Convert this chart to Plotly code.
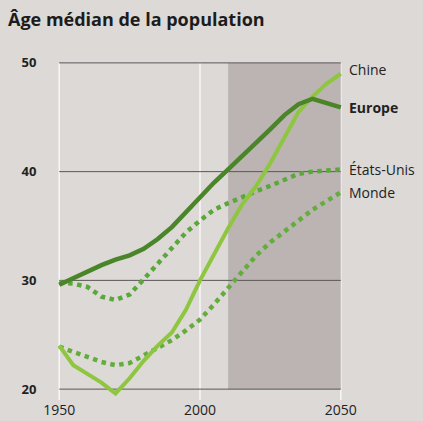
import plotly.graph_objects as go

years = [1950, 1955, 1960, 1965, 1970, 1975, 1980, 1985, 1990, 1995, 2000,
         2005, 2010, 2015, 2020, 2025, 2030, 2035, 2040, 2045, 2050]

chine = [24.0, 22.2, 21.4, 20.6, 19.6, 21.0, 22.6, 24.0, 25.2, 27.3, 30.0,
         32.4, 34.8, 37.0, 38.7, 40.8, 43.2, 45.5, 46.9, 48.1, 49.0]
europe = [29.6, 30.2, 30.9, 31.4, 31.9, 32.3, 32.9, 33.8, 34.9, 36.3, 37.7,
          39.0, 40.2, 41.4, 42.7, 43.9, 45.2, 46.2, 46.7, 46.3, 45.9]
etats_unis = [29.8, 29.7, 29.4, 28.5, 28.2, 28.7, 30.1, 31.5, 33.0, 34.4, 35.5,
              36.5, 37.1, 37.7, 38.2, 38.7, 39.3, 39.8, 40.0, 40.1, 40.2]
monde = [23.9, 23.4, 23.0, 22.5, 22.2, 22.4, 23.1, 23.8, 24.5, 25.4, 26.4,
         27.8, 29.3, 30.8, 32.3, 33.5, 34.5, 35.5, 36.5, 37.3, 38.1]

y_ticks = [20, 30, 40, 50]
x_ticks = [1950, 2000, 2050]
projection_start = 2010
title_text = "Âge médian de la population"

PAPER = "#dcd9d6"
SHADE = "#bbb4b3"
FONT = "Open Sans"

fig = go.Figure()

series = [
    ("Monde", monde, "#63ad3c", "dot", 4.5, False),
    ("États-Unis", etats_unis, "#5aa83a", "dot", 4.5, False),
    ("Chine", chine, "#8fc63f", "solid", 4, False),
    ("Europe", europe, "#4b852a", "solid", 4.5, True),
]
for name, vals, color, dash, w, bold in series:
    fig.add_trace(go.Scatter(x=years, y=vals, mode="lines", name=name,
                             line=dict(color=color, width=w, dash=dash),
                             hoverinfo="skip", showlegend=False))

shapes = []
shapes.append(dict(type="rect", xref="x", yref="y", x0=projection_start, x1=x_ticks[-1],
                   y0=y_ticks[0], y1=y_ticks[-1], fillcolor=SHADE, line_width=0, layer="below"))
for xv in x_ticks:
    shapes.append(dict(type="line", xref="x", yref="paper", x0=xv, x1=xv, y0=0, y1=0.968,
                       line=dict(color="rgba(255,255,255,0.8)", width=1.5), layer="below"))
for yv in y_ticks:
    shapes.append(dict(type="line", xref="x", yref="y", x0=x_ticks[0], x1=x_ticks[-1], y0=yv, y1=yv,
                       line=dict(color="#5a5658", width=1), layer="below"))

annotations = []
label_shift = {"Chine": 4}
for name, vals, color, dash, w, bold in series:
    annotations.append(dict(x=years[-1], y=vals[-1], xref="x", yref="y",
                            text=f"<b>{name}</b>" if bold else name,
                            showarrow=False, xanchor="left", yanchor="middle",
                            xshift=6, yshift=label_shift.get(name, 0),
                            font=dict(family=FONT, size=14, color="#222222")))

fig.update_layout(
    width=423, height=421, autosize=False,
    margin=dict(l=55, r=78, t=52, b=21),
    paper_bgcolor=PAPER, plot_bgcolor="rgba(0,0,0,0)",
    title=dict(text=f"<b>{title_text}</b>", xref="container", yref="container",
               x=8 / 423, xanchor="left", y=1 - 20 / 421, yanchor="middle",
               automargin=False,
               font=dict(family=FONT, size=18, color="#1c1c1c")),
    shapes=shapes, annotations=annotations,
    xaxis=dict(range=[1948.5, 2051.5], tickvals=x_ticks, ticktext=[str(v) for v in x_ticks],
               showgrid=False, zeroline=False, showline=False, automargin=False,
               ticks="",
               tickfont=dict(family=FONT, size=14, color="#222222")),
    yaxis=dict(range=[19, 51], tickvals=y_ticks, ticktext=[f"<b>{v}</b>" for v in y_ticks],
               showgrid=False, zeroline=False, showline=False, automargin=False,
               ticks="outside", ticklen=15, tickcolor="rgba(0,0,0,0)",
               tickfont=dict(family=FONT, size=13, color="#222222")),
)

fig.write_html("out.html", config={"responsive": False, "displayModeBar": False},
               post_script="document.body.style.margin='0';document.body.style.overflow='hidden';")
